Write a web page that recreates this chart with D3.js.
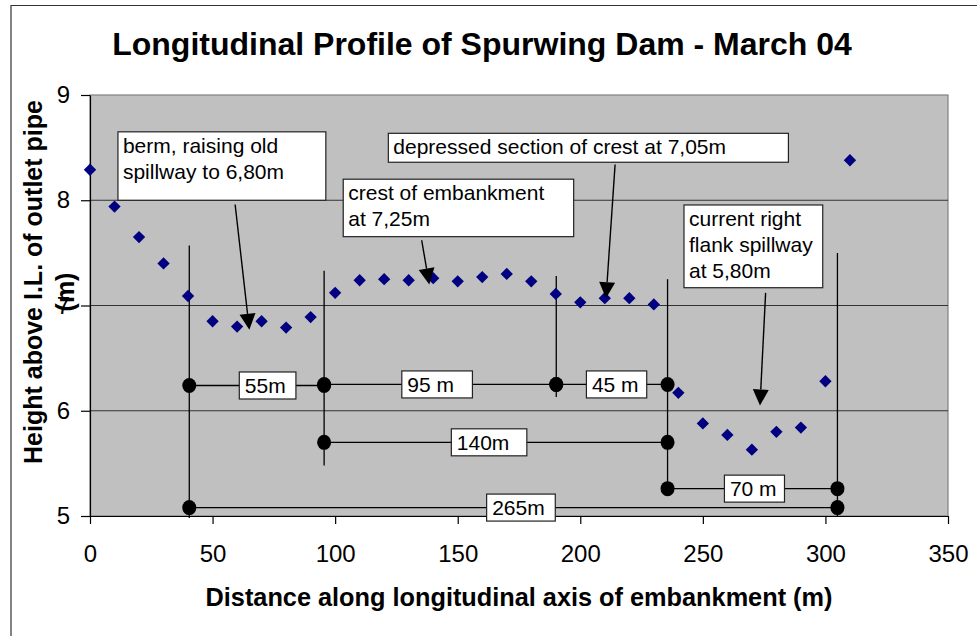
<!DOCTYPE html>
<html>
<head>
<meta charset="utf-8">
<script src="https://cdn.jsdelivr.net/npm/d3@7"></script>
<style>
  html, body { margin: 0; padding: 0; background: #fff; }
  svg { display: block; font-family: "Liberation Sans", Arial, sans-serif; }
</style>
</head>
<body>
<div id="chart"></div>
<script>
// Survey points along the embankment
const distance = [0, 10, 20, 30, 40, 50, 60, 70, 80, 90, 100, 110, 120, 130, 140, 150,
  160, 170, 180, 190, 200, 210, 220, 230, 240, 250, 260, 270, 280, 290, 300, 310];
const height = [8.29, 7.94, 7.65, 7.40, 7.09, 6.85, 6.80, 6.85, 6.79, 6.89, 7.12, 7.24, 7.25, 7.24, 7.26, 7.23,
  7.27, 7.30, 7.23, 7.11, 7.03, 7.07, 7.07, 7.01, 6.17, 5.88, 5.77, 5.63, 5.80, 5.84, 6.28, 8.38];

const xTicks = [0, 50, 100, 150, 200, 250, 300, 350];
const yTicks = [5, 6, 7, 8, 9];

const title = 'Longitudinal Profile of Spurwing Dam - March 04';
const xTitle = 'Distance along longitudinal axis of embankment (m)';
const yTitle = ['Height above I.L. of outlet pipe', '(m)'];

// Dimension markers: station, top and bottom of each vertical line (m)
const stations = [40.5, 95.5, 190.2, 235.6, 304.9];
const stationTop = [7.57, 7.33, 7.28, 7.25, 7.50];
const stationBottom = [4.98, 5.48, 6.13, 5.26, 4.99];

// Dimension spans: from / to station, height of the span line, label
const spanFrom = [40.5, 95.5, 190.2, 95.5, 235.6, 40.5];
const spanTo = [95.5, 190.2, 235.6, 235.6, 304.9, 304.9];
const spanLevel = [6.24, 6.25, 6.25, 5.70, 5.26, 5.08];
const spanLabel = ['55m', '95 m', '45 m', '140m', '70 m', '265m'];

// Callout texts
const notes = [
  ['berm, raising old', 'spillway to 6,80m'],
  ['crest of embankment', 'at 7,25m'],
  ['depressed section of crest at 7,05m'],
  ['current right', 'flank spillway', 'at 5,80m']
];

// layout (data units) for label boxes and callouts
const spanBox = [[60.9, 84.0], [127.2, 156.0], [202.5, 227.1], [147.4, 178.2], [258.8, 283.3], [161.8, 189.8]];
const noteBox = [
  { x0: 11.4, x1: 96.2, top: 8.65, bottom: 8.0, from: [59.2, 7.96], tip: [65.0, 6.77] },
  { x0: 103.3, x1: 197.3, top: 8.20, bottom: 7.654, from: [135.3, 7.62], tip: [138.4, 7.20] },
  { x0: 121.7, x1: 284.9, top: 8.636, bottom: 8.361, from: [214.2, 8.34], tip: [210.5, 7.07] },
  { x0: 242.3, x1: 298.9, top: 7.955, bottom: 7.169, from: [275.6, 7.12], tip: [273.3, 6.05] }
];

const width = 977, heightPx = 636;
const plot = { left: 90, right: 948, top: 95, bottom: 516 };

const svg = d3.select('#chart').append('svg')
  .attr('width', width)
  .attr('height', heightPx);

// chart frame (cropped on right/bottom)
svg.append('path')
  .attr('d', `M11,${heightPx} V5.5 H${width}`)
  .attr('fill', 'none')
  .attr('stroke', '#333')
  .attr('stroke-width', 1.2);

const x = d3.scaleLinear().domain([0, 350]).range([plot.left, plot.right]);
const y = d3.scaleLinear().domain([5, 9]).range([plot.bottom, plot.top]);

svg.append('rect')
  .attr('x', plot.left)
  .attr('y', plot.top)
  .attr('width', plot.right - plot.left)
  .attr('height', plot.bottom - plot.top)
  .attr('fill', '#c0c0c0')
  .attr('stroke', '#808080')
  .attr('stroke-width', 1.2);

// gridlines
svg.append('g')
  .selectAll('line')
  .data(yTicks.filter(d => d > 5 && d < 9))
  .join('line')
  .attr('x1', plot.left)
  .attr('x2', plot.right)
  .attr('y1', d => y(d))
  .attr('y2', d => y(d))
  .attr('stroke', '#333')
  .attr('stroke-width', 1);

// axes
const xAxis = svg.append('g')
  .attr('transform', `translate(0,${plot.bottom})`)
  .call(d3.axisBottom(x).tickValues(xTicks).tickFormat(d3.format('d'))
    .tickSize(8).tickSizeOuter(0).tickPadding(21));
const yAxis = svg.append('g')
  .attr('transform', `translate(${plot.left},0)`)
  .call(d3.axisLeft(y).tickValues(yTicks).tickFormat(d3.format('d'))
    .tickSize(9).tickSizeOuter(0).tickPadding(11));

[xAxis, yAxis].forEach(g => {
  g.attr('font-size', null).attr('font-family', null);
  g.select('.domain').attr('stroke', '#000').attr('stroke-width', 1.2);
  g.selectAll('.tick line').attr('stroke', '#000').attr('stroke-width', 1.2);
  g.selectAll('.tick text')
    .attr('fill', '#000')
    .style('font-size', '24px');
});

// dimension lines
const dims = svg.append('g').attr('stroke', '#000').attr('stroke-width', 1.3);
dims.selectAll('line.v')
  .data(stations)
  .join('line')
  .attr('class', 'v')
  .attr('x1', d => x(d))
  .attr('x2', d => x(d))
  .attr('y1', (d, i) => y(stationTop[i]))
  .attr('y2', (d, i) => y(stationBottom[i]));

dims.selectAll('line.h')
  .data(spanLabel)
  .join('line')
  .attr('class', 'h')
  .attr('x1', (d, i) => x(spanFrom[i]))
  .attr('x2', (d, i) => x(spanTo[i]))
  .attr('y1', (d, i) => y(spanLevel[i]))
  .attr('y2', (d, i) => y(spanLevel[i]));

const ends = [];
spanLabel.forEach((d, i) => {
  ends.push([spanFrom[i], spanLevel[i]]);
  ends.push([spanTo[i], spanLevel[i]]);
});
svg.append('g')
  .selectAll('ellipse')
  .data(ends)
  .join('ellipse')
  .attr('cx', d => x(d[0]))
  .attr('cy', d => y(d[1]))
  .attr('rx', 7)
  .attr('ry', 7.5)
  .attr('fill', '#000');

// survey points
const diamond = d3.symbol().type(d3.symbolSquare).size(76);
svg.append('g')
  .selectAll('path')
  .data(distance)
  .join('path')
  .attr('d', diamond)
  .attr('transform', (d, i) => `translate(${x(d)},${y(height[i])}) rotate(45)`)
  .attr('fill', '#000080');

// span label boxes
const spanG = svg.append('g');
spanLabel.forEach((label, i) => {
  const bx0 = x(spanBox[i][0]), bx1 = x(spanBox[i][1]);
  const cy = y(spanLevel[i]);
  spanG.append('rect')
    .attr('x', bx0)
    .attr('y', cy - 13.5)
    .attr('width', bx1 - bx0)
    .attr('height', 27)
    .attr('fill', '#fff')
    .attr('stroke', '#222')
    .attr('stroke-width', 1.2);
  spanG.append('text')
    .attr('x', bx0 + 5.5)
    .attr('y', cy + 7.5)
    .style('font-size', '21px')
    .text(label);
});

// callouts with arrows
const noteG = svg.append('g');
notes.forEach((lines, i) => {
  const b = noteBox[i];
  const bx0 = x(b.x0), bx1 = x(b.x1), by0 = y(b.top), by1 = y(b.bottom);
  noteG.append('rect')
    .attr('x', bx0)
    .attr('y', by0)
    .attr('width', bx1 - bx0)
    .attr('height', by1 - by0)
    .attr('fill', '#fff')
    .attr('stroke', '#222')
    .attr('stroke-width', 1.2);
  noteG.append('text')
    .style('font-size', '21px')
    .selectAll('tspan')
    .data(lines)
    .join('tspan')
    .attr('x', bx0 + 5)
    .attr('y', (d, j) => by0 + 21 + j * 26)
    .text(d => d);

  const sx = x(b.from[0]), sy = y(b.from[1]);
  const tx = x(b.tip[0]), ty = y(b.tip[1]);
  const len = Math.hypot(tx - sx, ty - sy);
  const ux = (tx - sx) / len, uy = (ty - sy) / len;
  const headLen = 16, headHalf = 8;
  const baseX = tx - ux * headLen, baseY = ty - uy * headLen;
  noteG.append('line')
    .attr('x1', sx).attr('y1', sy)
    .attr('x2', baseX).attr('y2', baseY)
    .attr('stroke', '#000')
    .attr('stroke-width', 1.4);
  noteG.append('path')
    .attr('d', `M${tx},${ty} L${baseX - uy * headHalf},${baseY + ux * headHalf} L${baseX + uy * headHalf},${baseY - ux * headHalf} Z`)
    .attr('fill', '#000');
});

// titles
svg.append('text')
  .attr('x', 482)
  .attr('y', 55)
  .attr('text-anchor', 'middle')
  .style('font-size', '32px')
  .style('font-weight', 'bold')
  .text(title);

svg.append('text')
  .attr('x', (plot.left + plot.right) / 2)
  .attr('y', 606)
  .attr('text-anchor', 'middle')
  .style('font-size', '25.3px')
  .style('font-weight', 'bold')
  .text(xTitle);

svg.append('text')
  .attr('transform', 'translate(42,282) rotate(-90)')
  .attr('text-anchor', 'middle')
  .style('font-size', '25px')
  .style('font-weight', 'bold')
  .text(yTitle[0]);

svg.append('text')
  .attr('transform', 'translate(74,292) rotate(-90)')
  .attr('text-anchor', 'middle')
  .style('font-size', '25px')
  .style('font-weight', 'bold')
  .text(yTitle[1]);
</script>
</body>
</html>
